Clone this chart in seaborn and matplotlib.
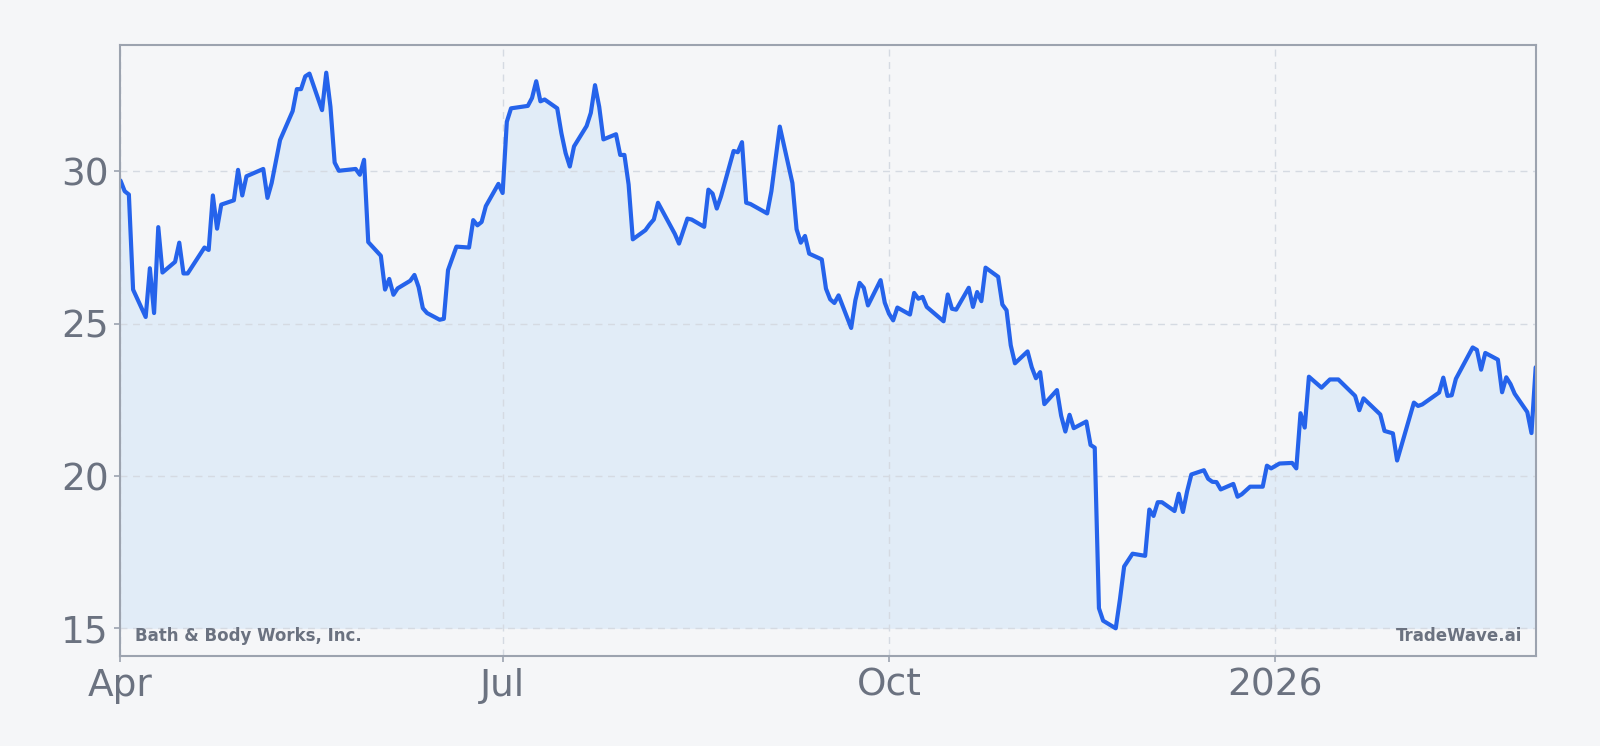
import matplotlib
matplotlib.use("Agg")
import matplotlib.pyplot as plt
import matplotlib.dates as mdates
import matplotlib.ticker as mticker
import seaborn as sns
import pandas as pd

# ---- data (trading-day closes) ----
dates = [
    "2025-04-01", "2025-04-02", "2025-04-03", "2025-04-04", "2025-04-07", "2025-04-08",
    "2025-04-09", "2025-04-10", "2025-04-11", "2025-04-14", "2025-04-15", "2025-04-16",
    "2025-04-17", "2025-04-21", "2025-04-22", "2025-04-23", "2025-04-24", "2025-04-25",
    "2025-04-28", "2025-04-29", "2025-04-30", "2025-05-01", "2025-05-05", "2025-05-06",
    "2025-05-07", "2025-05-09", "2025-05-12", "2025-05-13", "2025-05-14", "2025-05-15",
    "2025-05-16", "2025-05-19", "2025-05-20", "2025-05-21", "2025-05-22", "2025-05-23",
    "2025-05-27", "2025-05-28", "2025-05-29", "2025-05-30", "2025-06-02", "2025-06-03",
    "2025-06-04", "2025-06-05", "2025-06-06", "2025-06-09", "2025-06-10", "2025-06-11",
    "2025-06-12", "2025-06-13", "2025-06-16", "2025-06-17", "2025-06-18", "2025-06-20",
    "2025-06-23", "2025-06-24", "2025-06-25", "2025-06-26", "2025-06-27", "2025-06-30",
    "2025-07-01", "2025-07-02", "2025-07-03", "2025-07-07", "2025-07-08", "2025-07-09",
    "2025-07-10", "2025-07-11", "2025-07-14", "2025-07-15", "2025-07-16", "2025-07-17",
    "2025-07-18", "2025-07-21", "2025-07-22", "2025-07-23", "2025-07-24", "2025-07-25",
    "2025-07-28", "2025-07-29", "2025-07-30", "2025-07-31", "2025-08-01", "2025-08-04",
    "2025-08-05", "2025-08-06", "2025-08-07", "2025-08-11", "2025-08-12", "2025-08-14",
    "2025-08-15", "2025-08-18", "2025-08-19", "2025-08-20", "2025-08-21", "2025-08-22",
    "2025-08-25", "2025-08-26", "2025-08-27", "2025-08-28", "2025-08-29", "2025-09-02",
    "2025-09-03", "2025-09-05", "2025-09-08", "2025-09-09", "2025-09-10", "2025-09-11",
    "2025-09-12", "2025-09-15", "2025-09-16", "2025-09-17", "2025-09-18", "2025-09-19",
    "2025-09-22", "2025-09-23", "2025-09-24", "2025-09-25", "2025-09-26", "2025-09-29",
    "2025-09-30", "2025-10-01", "2025-10-02", "2025-10-03", "2025-10-06", "2025-10-07",
    "2025-10-08", "2025-10-09", "2025-10-10", "2025-10-14", "2025-10-15", "2025-10-16",
    "2025-10-17", "2025-10-20", "2025-10-21", "2025-10-22", "2025-10-23", "2025-10-24",
    "2025-10-27", "2025-10-28", "2025-10-29", "2025-10-30", "2025-10-31", "2025-11-03",
    "2025-11-04", "2025-11-05", "2025-11-06", "2025-11-07", "2025-11-10", "2025-11-11",
    "2025-11-12", "2025-11-13", "2025-11-14", "2025-11-17", "2025-11-18", "2025-11-19",
    "2025-11-20", "2025-11-21", "2025-11-24", "2025-11-25", "2025-11-26", "2025-11-28",
    "2025-12-01", "2025-12-02", "2025-12-03", "2025-12-04", "2025-12-05", "2025-12-08",
    "2025-12-09", "2025-12-10", "2025-12-11", "2025-12-12", "2025-12-15", "2025-12-16",
    "2025-12-17", "2025-12-18", "2025-12-19", "2025-12-22", "2025-12-23", "2025-12-24",
    "2025-12-26", "2025-12-29", "2025-12-30", "2025-12-31", "2026-01-02", "2026-01-05",
    "2026-01-06", "2026-01-07", "2026-01-08", "2026-01-09", "2026-01-12", "2026-01-14",
    "2026-01-16", "2026-01-20", "2026-01-21", "2026-01-22", "2026-01-26", "2026-01-27",
    "2026-01-29", "2026-01-30", "2026-02-03", "2026-02-04", "2026-02-05", "2026-02-09",
    "2026-02-10", "2026-02-11", "2026-02-12", "2026-02-13", "2026-02-17", "2026-02-18",
    "2026-02-19", "2026-02-20", "2026-02-23", "2026-02-24", "2026-02-25", "2026-02-26",
    "2026-02-27", "2026-03-02", "2026-03-03", "2026-03-04",
]

prices = [
    29.70, 29.35, 29.24, 26.12, 25.22, 26.82,
    25.35, 28.17, 26.68, 27.03, 27.66, 26.65,
    26.65, 27.50, 27.42, 29.21, 28.12, 28.91,
    29.05, 30.05, 29.21, 29.84, 30.08, 29.13,
    29.62, 31.03, 31.98, 32.70, 32.70, 33.12,
    33.21, 32.01, 33.24, 32.12, 30.29, 30.02,
    30.08, 29.89, 30.38, 27.68, 27.23, 26.12,
    26.47, 25.95, 26.16, 26.41, 26.60, 26.20,
    25.51, 25.35, 25.13, 25.16, 26.76, 27.53,
    27.50, 28.40, 28.23, 28.34, 28.86, 29.59,
    29.29, 31.63, 32.07, 32.15, 32.41, 32.96,
    32.30, 32.36, 32.07, 31.25, 30.60, 30.16,
    30.82, 31.49, 31.92, 32.83, 32.12, 31.05,
    31.22, 30.54, 30.54, 29.57, 27.77, 28.07,
    28.26, 28.42, 28.97, 27.95, 27.63, 28.45,
    28.42, 28.18, 29.40, 29.27, 28.78, 29.18,
    30.67, 30.63, 30.96, 28.97, 28.93, 28.62,
    29.35, 31.47, 29.62, 28.10, 27.66, 27.88,
    27.30, 27.11, 26.15, 25.80, 25.68, 25.93,
    24.86, 25.77, 26.34, 26.18, 25.60, 26.43,
    25.69, 25.33, 25.11, 25.53, 25.30, 26.01,
    25.82, 25.88, 25.55, 25.08, 25.96, 25.49,
    25.46, 26.18, 25.55, 26.04, 25.74, 26.84,
    26.54, 25.63, 25.44, 24.29, 23.70, 24.09,
    23.57, 23.21, 23.41, 22.36, 22.82, 21.98,
    21.46, 22.01, 21.57, 21.79, 21.02, 20.93,
    15.66, 15.25, 15.00, 15.95, 17.03, 17.45,
    17.38, 18.90, 18.69, 19.14, 19.14, 18.85,
    19.42, 18.82, 19.50, 20.05, 20.19, 19.91,
    19.81, 19.80, 19.56, 19.74, 19.32, 19.40,
    19.65, 19.65, 20.34, 20.25, 20.41, 20.43,
    20.25, 22.06, 21.59, 23.26, 22.90, 23.17,
    23.17, 22.63, 22.16, 22.55, 22.02, 21.48,
    21.40, 20.51, 22.41, 22.30, 22.35, 22.74,
    23.23, 22.63, 22.65, 23.19, 24.22, 24.14,
    23.49, 24.04, 23.82, 22.75, 23.24, 23.02,
    22.70, 22.10, 21.41, 23.57,
]

x_tick_dates = ["2025-04-01", "2025-07-01", "2025-10-01", "2026-01-01"]
y_ticks = [15, 20, 25, 30]
company = "Bath & Body Works, Inc."
brand = "TradeWave.ai"

# ---- styling ----
BG = "#f5f6f8"
LINE = "#2563eb"
FILL = "#e1ecf7"
TEXT = "#6b7280"
SPINE = "#9ca3af"
GRID = "#d5dae2"

sns.set_theme(style="white")
plt.rcParams["font.family"] = ["DejaVu Sans"]

df = pd.DataFrame({"date": pd.to_datetime(dates), "price": prices})

fig = plt.figure(figsize=(16, 7.46), dpi=100, facecolor=BG)
ax = fig.add_axes([0.0753, 0.1205, 0.8845, 0.8193])
ax.set_facecolor(BG)

base = df["price"].min()
ax.fill_between(df["date"], df["price"], base, color=FILL, linewidth=0, zorder=1)
sns.lineplot(data=df, x="date", y="price", ax=ax, color=LINE, linewidth=3, zorder=3)

rng = df["price"].max() - df["price"].min()
ax.set_ylim(df["price"].min() - 0.05 * rng, df["price"].max() + 0.05 * rng)
ax.set_xlim(df["date"].min(), df["date"].max())

ax.set_yticks(y_ticks)
ax.set_xticks(pd.to_datetime(x_tick_dates))


def fmt_date(v, pos=None):
    d = mdates.num2date(v)
    return str(d.year) if d.month == 1 else d.strftime("%b")


ax.xaxis.set_major_formatter(mticker.FuncFormatter(fmt_date))

ax.set_axisbelow(False)
ax.grid(True, which="major", axis="both", color=GRID, linestyle=(0, (5, 4)),
        linewidth=1.0, zorder=2)

for s in ax.spines.values():
    s.set_color(SPINE)
    s.set_linewidth(1.5)
    s.set_visible(True)
    s.set_zorder(4)

ax.tick_params(axis="both", which="major", labelsize=27, colors=TEXT, length=4,
               width=1.2, pad=4.5, direction="out", bottom=True, left=True)
ax.tick_params(axis="both", color=SPINE)
ax.set_xlabel("")
ax.set_ylabel("")

ax.text(0.0103, 0.018, company, transform=ax.transAxes, ha="left", va="bottom",
        fontsize=12.0, fontweight="bold", color=TEXT, zorder=5)
ax.text(0.9905, 0.018, brand, transform=ax.transAxes, ha="right", va="bottom",
        fontsize=12.0, fontweight="bold", color=TEXT, zorder=5)

fig.savefig("out.png", dpi=100, facecolor=BG)
